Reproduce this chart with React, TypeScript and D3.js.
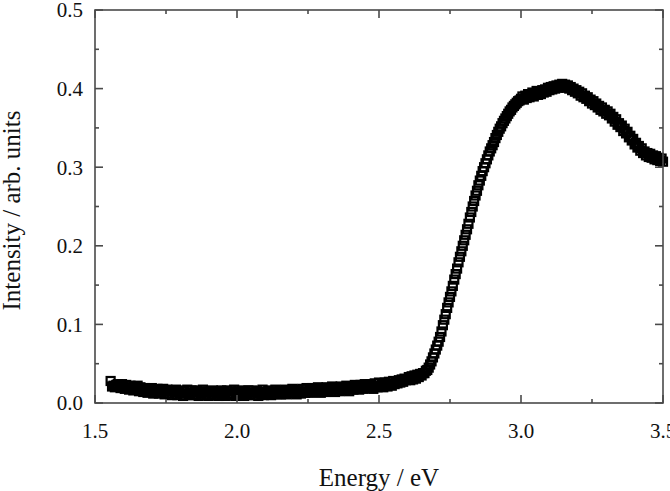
import * as d3 from "d3";

// Baseline region, 1.555 – 2.595 eV in 0.005 eV steps
const LOW_START = 1.555;
const LOW_STEP = 0.005;
const LOW_VALUES = [
  0.028, 0.021, 0.022, 0.020, 0.023, 0.024, 0.022, 0.019, 0.024, 0.021, 0.018, 0.023, 0.020, 0.017, 0.022, 0.019, 0.016, 0.021, 0.018, 0.022,
  0.015, 0.020, 0.017, 0.014, 0.019, 0.016, 0.013, 0.018, 0.015, 0.019, 0.012, 0.017, 0.014, 0.018, 0.012, 0.016, 0.013, 0.018, 0.011, 0.015,
  0.017, 0.012, 0.015, 0.010, 0.016, 0.013, 0.017, 0.010, 0.014, 0.012, 0.016, 0.009, 0.015, 0.012, 0.017, 0.010, 0.013, 0.016, 0.010, 0.014,
  0.011, 0.016, 0.009, 0.014, 0.012, 0.017, 0.010, 0.013, 0.015, 0.009, 0.014, 0.011, 0.016, 0.010, 0.013, 0.015, 0.009, 0.012, 0.016, 0.011,
  0.014, 0.009, 0.016, 0.012, 0.010, 0.015, 0.011, 0.017, 0.009, 0.013, 0.015, 0.010, 0.012, 0.016, 0.009, 0.014, 0.011, 0.016, 0.010, 0.013,
  0.016, 0.010, 0.013, 0.015, 0.009, 0.014, 0.012, 0.017, 0.010, 0.014, 0.011, 0.016, 0.012, 0.010, 0.015, 0.013, 0.017, 0.011, 0.014, 0.016,
  0.011, 0.015, 0.013, 0.017, 0.011, 0.016, 0.014, 0.012, 0.018, 0.013, 0.016, 0.011, 0.017, 0.014, 0.012, 0.018, 0.015, 0.013, 0.019, 0.014,
  0.017, 0.013, 0.019, 0.015, 0.018, 0.014, 0.020, 0.016, 0.013, 0.019, 0.017, 0.014, 0.020, 0.016, 0.019, 0.015, 0.021, 0.017, 0.014, 0.020,
  0.018, 0.015, 0.021, 0.017, 0.020, 0.016, 0.022, 0.018, 0.015, 0.021, 0.019, 0.017, 0.023, 0.018, 0.021, 0.017, 0.023, 0.020, 0.018, 0.024,
  0.020, 0.023, 0.019, 0.024, 0.021, 0.018, 0.025, 0.022, 0.020, 0.026, 0.021, 0.024, 0.020, 0.026, 0.023, 0.021, 0.027, 0.024, 0.022, 0.028,
  0.024, 0.027, 0.025, 0.029, 0.026, 0.030, 0.027, 0.031, 0.029,
];

// Absorption edge, 2.600 – 3.000 eV in 0.005 eV steps
const EDGE_START = 2.6;
const EDGE_STEP = 0.005;
const EDGE_VALUES = [
  0.030, 0.033, 0.029, 0.034, 0.030, 0.035, 0.031, 0.036, 0.033, 0.037,
  0.035, 0.038, 0.038, 0.041, 0.042, 0.045, 0.049, 0.053, 0.058, 0.063,
  0.068, 0.073, 0.078, 0.084, 0.091, 0.099, 0.106, 0.113, 0.121, 0.128,
  0.135, 0.142, 0.149, 0.157, 0.164, 0.171, 0.179, 0.186, 0.193, 0.200,
  0.207, 0.214, 0.221, 0.228, 0.236, 0.243, 0.250, 0.257, 0.264, 0.270,
  0.277, 0.283, 0.289, 0.295, 0.300, 0.305, 0.310, 0.315, 0.320, 0.324,
  0.328, 0.332, 0.337, 0.341, 0.345, 0.349, 0.352, 0.356, 0.359, 0.362,
  0.365, 0.368, 0.371, 0.373, 0.376, 0.378, 0.380, 0.382, 0.384, 0.385,
  0.387,
];

// Peak and high-energy tail, 3.005 – 3.500 eV in 0.005 eV steps
const HIGH_START = 3.005;
const HIGH_STEP = 0.005;
const HIGH_VALUES = [
  0.390, 0.386, 0.391, 0.388, 0.393, 0.389, 0.392, 0.395, 0.390, 0.394, 0.397, 0.392, 0.396, 0.393, 0.398, 0.395, 0.399, 0.396, 0.401, 0.398,
  0.402, 0.399, 0.403, 0.400, 0.404, 0.401, 0.405, 0.402, 0.406, 0.403, 0.405, 0.401, 0.404, 0.400, 0.402, 0.398, 0.400, 0.396, 0.398, 0.394,
  0.396, 0.391, 0.394, 0.389, 0.391, 0.387, 0.389, 0.384, 0.386, 0.381, 0.384, 0.379, 0.381, 0.376, 0.378, 0.373, 0.376, 0.371, 0.373, 0.368,
  0.371, 0.366, 0.368, 0.362, 0.364, 0.358, 0.361, 0.354, 0.356, 0.351, 0.353, 0.346, 0.349, 0.343, 0.345, 0.338, 0.340, 0.334, 0.336, 0.329,
  0.331, 0.325, 0.327, 0.321, 0.324, 0.318, 0.320, 0.315, 0.318, 0.313, 0.317, 0.312, 0.315, 0.310, 0.314, 0.309, 0.312, 0.308, 0.311, 0.307,
];

const X_MAJOR = [1.5, 2.0, 2.5, 3.0, 3.5];
const X_MINOR = [1.75, 2.25, 2.75, 3.25];
const Y_MAJOR = [0.0, 0.1, 0.2, 0.3, 0.4, 0.5];
const Y_MINOR = [0.05, 0.15, 0.25, 0.35, 0.45];

const W = 670;
const H = 491;
const M = { l: 95, r: 7, t: 10, b: 88 };
const FONT = "'Liberation Serif', 'Times New Roman', serif";
const AXIS = "#4a4a4a";

function segment(start: number, step: number, values: number[]) {
  return values.map((v, i) => ({ e: +(start + i * step).toFixed(4), v }));
}

const POINTS = [
  ...segment(LOW_START, LOW_STEP, LOW_VALUES),
  ...segment(EDGE_START, EDGE_STEP, EDGE_VALUES),
  ...segment(HIGH_START, HIGH_STEP, HIGH_VALUES),
];

export default function App() {
  const x = d3.scaleLinear().domain([1.5, 3.5]).range([M.l, W - M.r]);
  const y = d3.scaleLinear().domain([0, 0.5]).range([H - M.b, M.t]);
  const [x0, x1] = x.range();
  const [y0, y1] = y.range();
  const big = 8;
  const small = 4;
  const ms = 8;

  return (
    <svg width={W} height={H} style={{ position: "absolute", left: 0, top: 0, background: "#fff" }}>
      {/* markers */}
      <g fill="none" stroke="#000" strokeWidth={2.2}>
        {POINTS.map((p, i) => (
          <rect key={i} x={x(p.e) - ms / 2} y={y(p.v) - ms / 2} width={ms} height={ms} />
        ))}
      </g>

      {/* frame and ticks */}
      <g stroke={AXIS} strokeWidth={1.6} fill="none">
        <rect x={x0} y={y1} width={x1 - x0} height={y0 - y1} />
        {X_MAJOR.map(v => (
          <g key={"xM" + v}>
            <line x1={x(v)} x2={x(v)} y1={y0} y2={y0 - big} />
            <line x1={x(v)} x2={x(v)} y1={y1} y2={y1 + big} />
          </g>
        ))}
        {X_MINOR.map(v => (
          <g key={"xm" + v}>
            <line x1={x(v)} x2={x(v)} y1={y0} y2={y0 - small} />
            <line x1={x(v)} x2={x(v)} y1={y1} y2={y1 + small} />
          </g>
        ))}
        {Y_MAJOR.map(v => (
          <g key={"yM" + v}>
            <line x1={x0} x2={x0 + big} y1={y(v)} y2={y(v)} />
            <line x1={x1} x2={x1 - big} y1={y(v)} y2={y(v)} />
          </g>
        ))}
        {Y_MINOR.map(v => (
          <g key={"ym" + v}>
            <line x1={x0} x2={x0 + small} y1={y(v)} y2={y(v)} />
            <line x1={x1} x2={x1 - small} y1={y(v)} y2={y(v)} />
          </g>
        ))}
      </g>

      {/* tick labels */}
      <g fontFamily={FONT} fontSize={21} fill="#111">
        {X_MAJOR.map(v => (
          <text key={"xl" + v} x={x(v)} y={y0 + 35} textAnchor="middle">{v.toFixed(1)}</text>
        ))}
        {Y_MAJOR.map(v => (
          <text key={"yl" + v} x={x0 - 12} y={y(v)} dy="0.35em" textAnchor="end">{v.toFixed(1)}</text>
        ))}
      </g>

      {/* axis titles */}
      <g fontFamily={FONT} fontSize={25} fill="#111">
        <text x={(x0 + x1) / 2} y={486} textAnchor="middle">Energy / eV</text>
        <text transform={`translate(20,${(y0 + y1) / 2 + 4}) rotate(-90)`} textAnchor="middle">Intensity / arb. units</text>
      </g>
    </svg>
  );
}
